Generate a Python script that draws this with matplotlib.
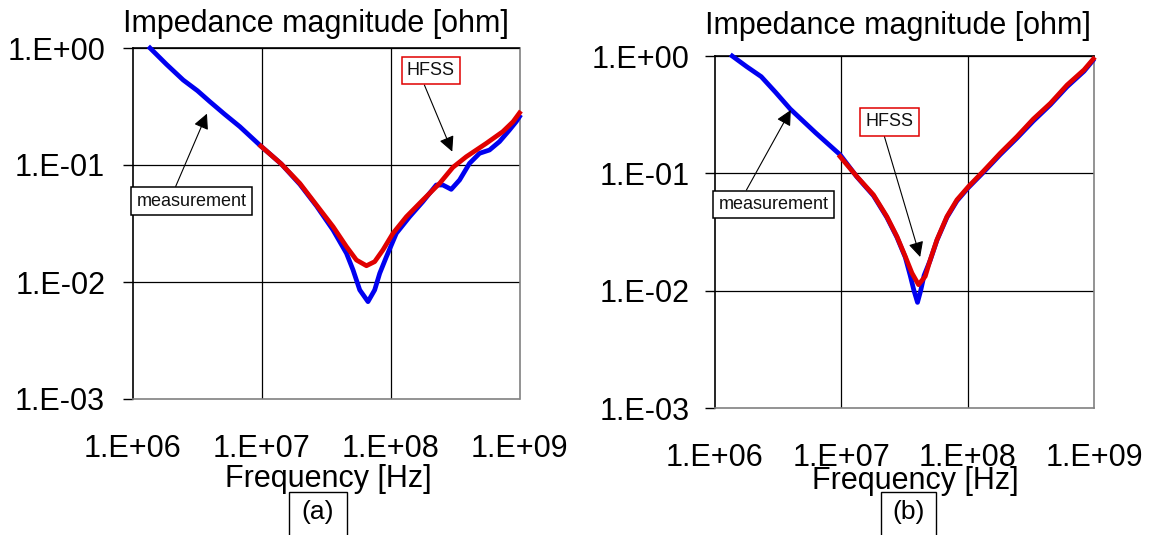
import matplotlib
matplotlib.use('Agg')
import matplotlib.pyplot as plt
from matplotlib.patches import Rectangle
from matplotlib.ticker import NullLocator
import numpy as np

plt.rcParams['font.family'] = ['Liberation Sans', 'DejaVu Sans']

# ---------------- data (log10 of frequency [Hz], log10 of |Z| [ohm]) ----------------
# Panel (a)
meas_a_log_f = [6.132, 6.26, 6.39, 6.5, 6.597, 6.71, 6.829, 6.992, 7.15, 7.295, 7.424, 7.553, 7.657,
                7.708, 7.76, 7.824, 7.876, 7.915, 7.967, 8.044, 8.147, 8.25, 8.354,
                8.405, 8.47, 8.535, 8.612, 8.69, 8.767, 8.845, 8.922, 8.974, 9.0]
meas_a_log_z = [0.0, -0.14, -0.274, -0.365, -0.459, -0.565, -0.672, -0.838, -0.99, -1.165, -1.35, -1.556, -1.755,
                -1.897, -2.068, -2.168, -2.068, -1.926, -1.784, -1.584, -1.442, -1.313, -1.171,
                -1.171, -1.208, -1.128, -0.986, -0.9, -0.872, -0.8, -0.701, -0.63, -0.587]
hfss_a_log_f = [6.992, 7.15, 7.295, 7.424, 7.553, 7.657, 7.734, 7.812, 7.876, 7.94,
                8.018, 8.122, 8.25, 8.38, 8.483, 8.587, 8.742, 8.87, 8.95, 9.0]
hfss_a_log_z = [-0.838, -0.99, -1.157, -1.342, -1.527, -1.698, -1.812, -1.861, -1.826, -1.726,
                -1.584, -1.442, -1.299, -1.157, -1.02, -0.929, -0.815, -0.715, -0.63, -0.555]

# Panel (b)
meas_b_log_f = [6.136, 6.25, 6.366, 6.48, 6.595, 6.796, 6.991, 7.123, 7.254, 7.36, 7.44, 7.506,
                7.545, 7.575, 7.603, 7.628, 7.655, 7.704, 7.757, 7.836, 7.915, 8.007,
                8.126, 8.258, 8.39, 8.519, 8.655, 8.787, 8.921, 8.99]
meas_b_log_z = [0.0, -0.09, -0.176, -0.31, -0.451, -0.654, -0.842, -1.03, -1.19, -1.375, -1.545, -1.715,
                -1.87, -2.0, -2.1, -2.0, -1.87, -1.74, -1.57, -1.375, -1.235, -1.12,
                -0.99, -0.84, -0.70, -0.555, -0.415, -0.262, -0.13, -0.04]
hfss_b_log_f = [6.99, 7.123, 7.254, 7.36, 7.44, 7.506, 7.559, 7.611, 7.664, 7.704,
                7.757, 7.836, 7.915, 8.007, 8.126, 8.258, 8.39, 8.519, 8.655, 8.787,
                8.921, 8.995]
hfss_b_log_z = [-0.857, -1.027, -1.183, -1.368, -1.538, -1.708, -1.85, -1.949, -1.878, -1.736,
                -1.566, -1.368, -1.226, -1.112, -0.98, -0.828, -0.687, -0.538, -0.403, -0.247,
                -0.118, -0.025]

x_ticks = [1e6, 1e7, 1e8, 1e9]
x_tick_labels = ['1.E+06', '1.E+07', '1.E+08', '1.E+09']
y_ticks = [1e-3, 1e-2, 1e-1, 1e0]
y_tick_labels = ['1.E-03', '1.E-02', '1.E-01', '1.E+00']

title_text = 'Impedance magnitude [ohm]'
xlabel_text = 'Frequency [Hz]'
panel_labels = ['(a)', '(b)']

BLUE = '#0000F0'
RED = '#E00000'
GREY = '#808080'
FS = 22

W, H = 1149, 535
fig = plt.figure(figsize=(W / 100, H / 100), dpi=100)


def fx(px):
    return px / W


def fy(py):
    return 1 - py / H


ax_a = fig.add_axes([fx(133), fy(399), (519.5 - 133) / W, (399 - 48) / H])
ax_b = fig.add_axes([fx(715), fy(408), (1094 - 715) / W, (408 - 56) / H])


def style(ax, ypad):
    ax.set_xscale('log')
    ax.set_yscale('log')
    ax.set_xlim(x_ticks[0], x_ticks[-1])
    ax.set_ylim(y_ticks[0], y_ticks[-1])
    ax.set_xticks(x_ticks)
    ax.set_xticklabels(x_tick_labels)
    ax.set_yticks(y_ticks)
    ax.set_yticklabels(y_tick_labels)
    ax.xaxis.set_minor_locator(NullLocator())
    ax.yaxis.set_minor_locator(NullLocator())
    ax.tick_params(axis='x', length=0, pad=25.5, labelsize=FS)
    ax.tick_params(axis='y', length=7.5, width=1, direction='out', pad=ypad,
                   labelsize=FS, color='black')
    for y in y_ticks[1:]:
        ax.axhline(y, color='black', lw=0.9, zorder=1)
    for x in x_ticks[1:-1]:
        ax.axvline(x, color='black', lw=0.9, zorder=1)
    ax.spines['left'].set_color('black')
    ax.spines['top'].set_color('black')
    ax.spines['right'].set_color(GREY)
    ax.spines['bottom'].set_color(GREY)
    for s in ax.spines.values():
        s.set_linewidth(1.2)
    ax.set_facecolor('white')


style(ax_a, 12.5)
style(ax_b, 11)

LW = 3.4
ax_a.plot(10 ** np.array(meas_a_log_f), 10 ** np.array(meas_a_log_z), color=BLUE, lw=LW,
          solid_joinstyle='round', zorder=3, clip_on=False)
ax_a.plot(10 ** np.array(hfss_a_log_f), 10 ** np.array(hfss_a_log_z), color=RED, lw=LW,
          solid_joinstyle='round', zorder=4, clip_on=False)
ax_b.plot(10 ** np.array(meas_b_log_f), 10 ** np.array(meas_b_log_z), color=BLUE, lw=LW,
          solid_joinstyle='round', zorder=3, clip_on=False)
ax_b.plot(10 ** np.array(hfss_b_log_f), 10 ** np.array(hfss_b_log_z), color=RED, lw=LW,
          solid_joinstyle='round', zorder=4, clip_on=False)


def callout(ax, text, tip, box_center, relpos, edge):
    ax.annotate(text, xy=tip, xycoords='data', xytext=box_center,
                textcoords='axes fraction', ha='center', va='center', fontsize=13,
                color='#111111', annotation_clip=False, zorder=6,
                bbox=dict(boxstyle='square,pad=0.3', fc='white', ec=edge, lw=1.1),
                arrowprops=dict(arrowstyle='-|>', color='black', lw=0.8,
                                mutation_scale=23, shrinkA=0, shrinkB=0, relpos=relpos))


callout(ax_a, 'measurement', (10 ** 6.574, 10 ** -0.561), (0.152, 0.564), (0.33, 1.0), 'black')
callout(ax_a, 'HFSS', (10 ** 8.478, 10 ** -0.886), (0.771, 0.936), (0.31, 0.0), RED)
callout(ax_b, 'measurement', (10 ** 6.6, 10 ** -0.46), (0.1554, 0.578), (0.22, 1.0), 'black')
callout(ax_b, 'HFSS', (10 ** 7.624, 10 ** -1.713), (0.4604, 0.8125), (0.357, 0.0), RED)

# titles and axis labels
fig.text(fx(315.5), fy(32), title_text, ha='center', va='baseline', fontsize=FS)
fig.text(fx(898), fy(34), title_text, ha='center', va='baseline', fontsize=FS)
fig.text(fx(328), fy(487), xlabel_text, ha='center', va='baseline', fontsize=FS)
fig.text(fx(915), fy(489), xlabel_text, ha='center', va='baseline', fontsize=FS)

# panel label boxes
for (x0, x1, xc), lab in zip([(289, 347, 318), (881, 936, 908.5)], panel_labels):
    fig.patches.append(Rectangle((fx(x0), -0.02), (x1 - x0) / W, fy(492) + 0.02,
                                 transform=fig.transFigure, fill=False, ec='black', lw=1))
    fig.text(fx(xc), fy(512), lab, ha='center', va='center', fontsize=19)

fig.savefig('out.png', dpi=100, facecolor='white')
